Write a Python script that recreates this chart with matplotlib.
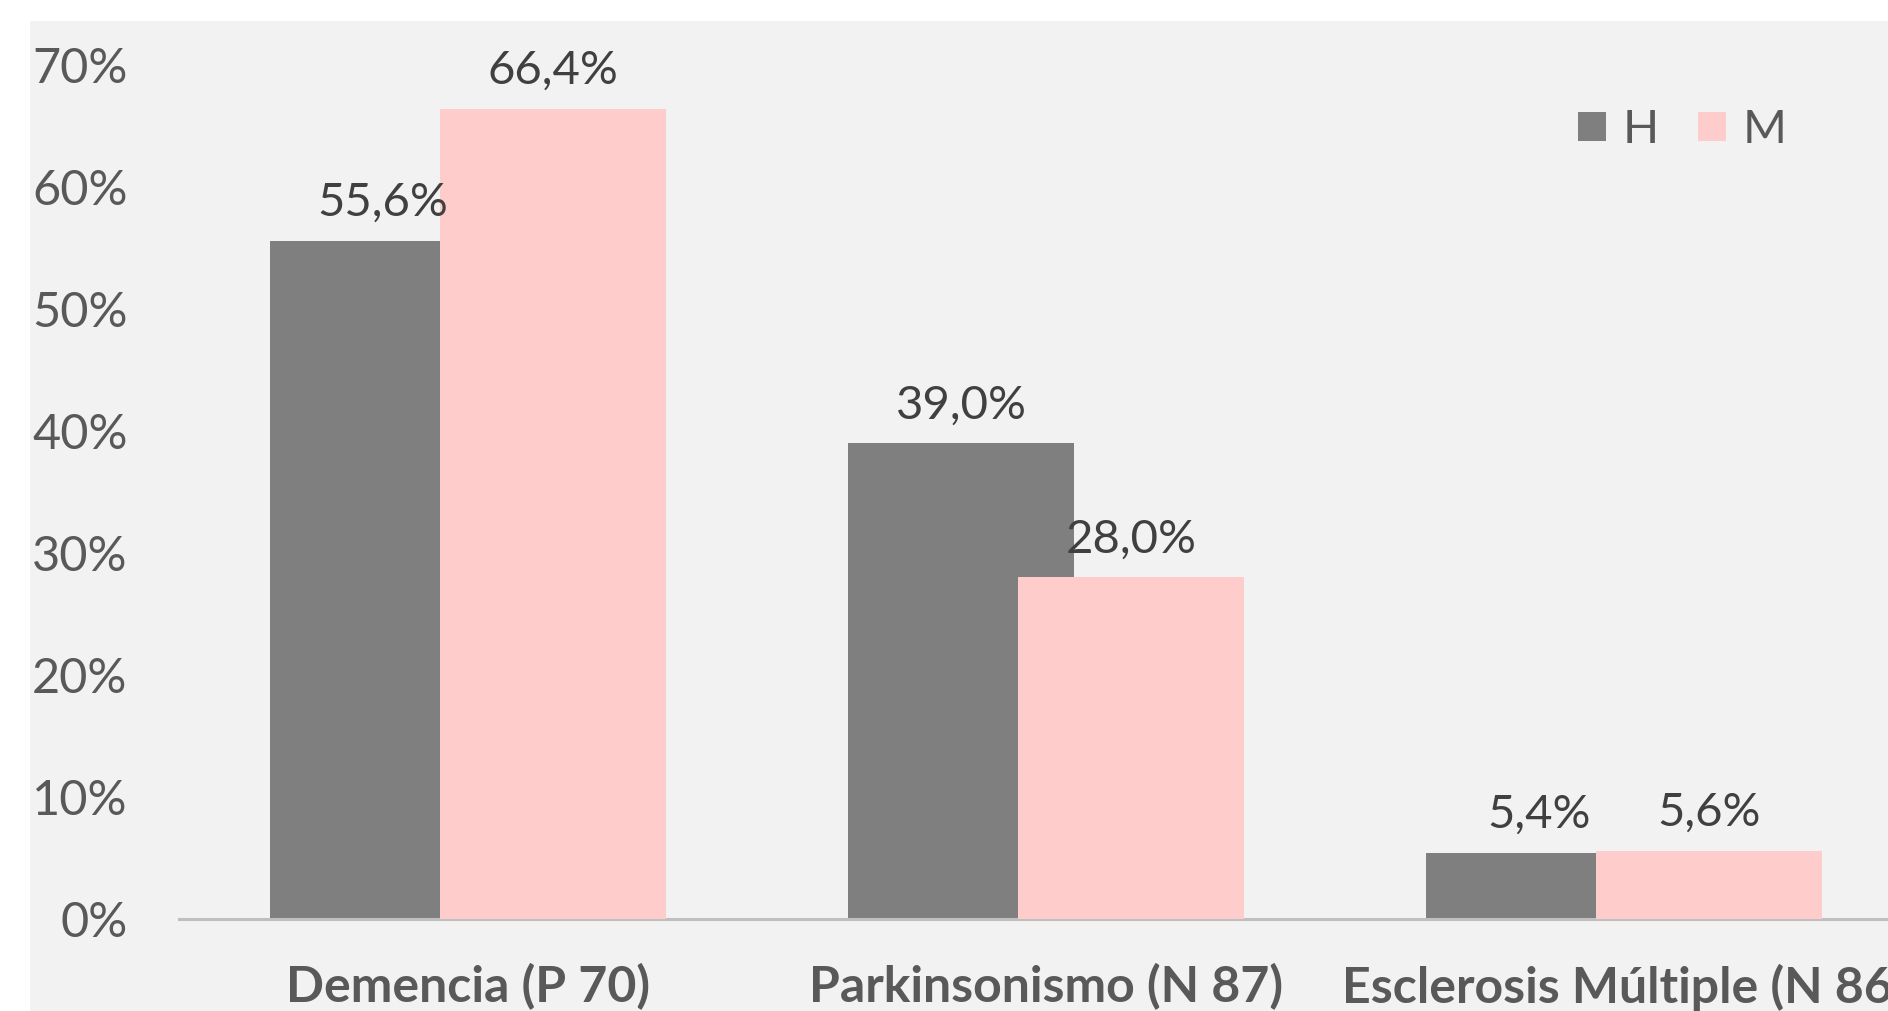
import matplotlib
matplotlib.use("Agg")
import matplotlib.pyplot as plt
from matplotlib.patches import Rectangle
from matplotlib.ticker import FixedLocator, FuncFormatter
import numpy as np

categories = ["Demencia (P 70)", "Parkinsonismo (N 87)", "Esclerosis Múltiple (N 86)"]
series_names = ["H", "M"]
h_values = [55.6, 39.0, 5.4]
m_values = [66.4, 28.0, 5.6]
y_ticks = [0, 10, 20, 30, 40, 50, 60, 70]

GRAY = "#7F7F7F"
PINK = "#FFCCCC"
TICK_COLOR = "#595959"
LABEL_COLOR = "#404040"

plt.rcParams["font.family"] = ["Lato", "DejaVu Sans"]

W, H = 1888, 1011
fig = plt.figure(figsize=(W / 100, H / 100), dpi=100)
fig.patch.set_facecolor("white")
fig.patches.append(Rectangle((30 / W, 0), 1, (H - 21) / H, transform=fig.transFigure,
                             facecolor="#F2F2F2", edgecolor="none", zorder=-10))

# axes runs past the right edge, like the cropped original
ax = fig.add_axes([179 / W, (H - 919) / H, 3 * 578 / W, (919 - 65) / H])
ax.set_facecolor("none")

x = np.arange(len(categories))
bw = 0.391
off = 0.147
ax.bar(x - off, h_values, width=bw, color=GRAY, label=series_names[0], zorder=2)
ax.bar(x + off, m_values, width=bw, color=PINK, label=series_names[1], zorder=3)

for xi, v in zip(x - off, h_values):
    ax.annotate(f"{v:.1f}%".replace(".", ","), (xi, v), xytext=(0, 18), textcoords="offset points",
                ha="center", va="baseline", fontsize=34, color=LABEL_COLOR, zorder=4)
for xi, v in zip(x + off, m_values):
    ax.annotate(f"{v:.1f}%".replace(".", ","), (xi, v), xytext=(0, 18), textcoords="offset points",
                ha="center", va="baseline", fontsize=34, color=LABEL_COLOR, zorder=4)

ax.set_xlim(-0.5, 2.5)
ax.set_ylim(0, 70)
ax.yaxis.set_major_locator(FixedLocator(y_ticks))
ax.yaxis.set_major_formatter(FuncFormatter(lambda v, p: f"{v:.0f}%"))
ax.set_xticks(x)
ax.set_xticklabels(categories, fontsize=36, fontweight="bold", color=TICK_COLOR)
ax.tick_params(axis="y", length=0, pad=37, labelsize=35, labelcolor=TICK_COLOR)
ax.tick_params(axis="x", length=0, pad=32)

for s in ["top", "right", "left"]:
    ax.spines[s].set_visible(False)
ax.spines["bottom"].set_color("#BFBFBF")
ax.spines["bottom"].set_linewidth(2.2)

leg = fig.legend(loc="center left", bbox_to_anchor=(1578 / W, (H - 130) / H), ncol=2,
                 frameon=False, fontsize=34, handlelength=0.59, handleheight=0.59,
                 handletextpad=0.36, columnspacing=0.82, borderpad=0, borderaxespad=0)
for t in leg.get_texts():
    t.set_color(TICK_COLOR)

fig.savefig("out.png", dpi=100, facecolor=fig.get_facecolor())
